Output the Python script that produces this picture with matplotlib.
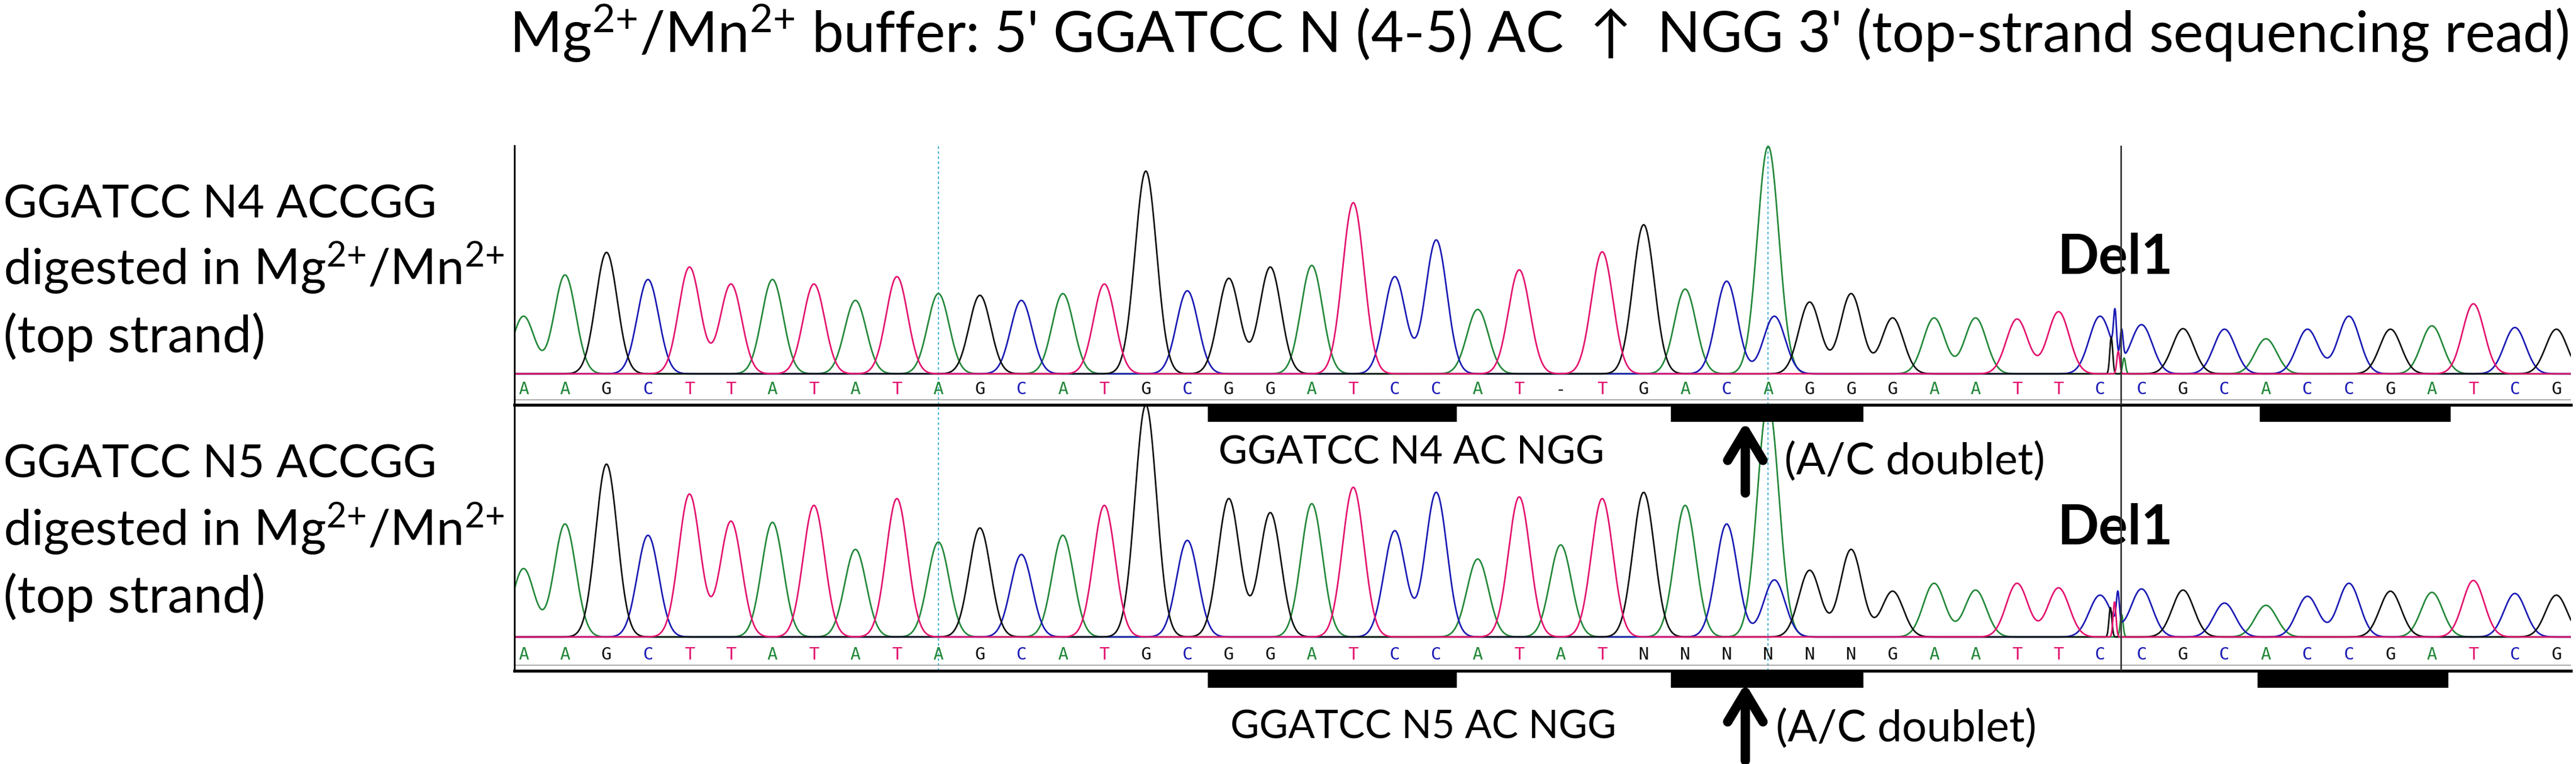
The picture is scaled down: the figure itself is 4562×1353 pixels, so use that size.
import numpy as np
import matplotlib
matplotlib.use("Agg")
import matplotlib.pyplot as plt

plt.rcParams['mathtext.default'] = 'regular'
plt.rcParams['font.family'] = ['Lato', 'DejaVu Sans']

# ---------------- data ----------------
title = r"Mg$^{2{+}}$/Mn$^{2{+}}$ buffer: 5' GGATCC N (4-5) AC $\uparrow$ NGG 3' (top-strand sequencing read)"
labels_top = ["GGATCC N4 ACCGG", r"digested in Mg$^{2{+}}$/Mn$^{2{+}}$", "(top strand)"]
labels_bot = ["GGATCC N5 ACCGG", r"digested in Mg$^{2{+}}$/Mn$^{2{+}}$", "(top strand)"]

# base calls printed under each trace
top_calls = "AAGCTTATATAGCATGCGGATCCAT-TGACAGGGAATTCCGCACCGATCG"
bot_calls = "AAGCTTATATAGCATGCGGATCCATATNNNNNNGAATTCCGCACCGATCG"
# dye of the main peak at each position ('-' = no peak)
top_peaks = "AAGCTTATATAGCATGCGGATCCAT-TGACAGGGAATTCCGCACCGATCG"
bot_peaks = "AAGCTTATATAGCATGCGGATCCATATGACAGGGAATTCCGCACCGATCG"

top_heights = [102, 175, 215, 167, 189, 159, 167, 159, 130, 172,
               142, 139, 130, 142, 159, 359, 147, 169, 189, 192,
               303, 172, 237, 114, 184, 0, 216, 264, 150, 164,
               403, 127, 142, 99, 99, 99, 97, 110, 102, 87,
               80, 79, 62, 79, 102, 79, 85, 124, 82, 79]
bot_heights = [121, 200, 306, 180, 253, 205, 203, 233, 155, 245,
               168, 193, 146, 180, 233, 411, 171, 245, 220, 236,
               265, 188, 256, 138, 248, 163, 245, 256, 233, 200,
               416, 118, 155, 81, 95, 83, 95, 87, 74, 85,
               83, 60, 56, 72, 95, 81, 79, 100, 77, 74]

# secondary (doublet) peaks: position, dye, height
top_extra = [(30.15, 'C', 102)]
bot_extra = [(30.15, 'C', 101)]
# dye blob spikes at the Del1 junction: position, dye, height
top_blob = [(38.27, 'G', 65), (38.36, 'C', 72), (38.44, 'T', 40), (38.52, 'C', 50), (38.58, 'A', 28)]
bot_blob = [(38.25, 'G', 52), (38.35, 'T', 62), (38.43, 'C', 55), (38.52, 'A', 40)]

site_bars_top = [(16.5, 22.5), (27.65, 32.3), (41.85, 46.45)]
site_bars_bot = [(16.5, 22.5), (27.65, 32.3), (41.8, 46.4)]
motif_top = "GGATCC N4 AC NGG"
motif_bot = "GGATCC N5 AC NGG"
doublet_label = "(A/C doublet)"
doublet_pos = 29.45
cursor_pos = [10, 30]
del_pos = 38.5
del_label = "Del1"

dye_color = {'A': '#23883a', 'C': '#1a1ab4', 'G': '#111111', 'T': '#e3136f',
             'N': '#111111', '-': '#111111'}
SIG = 0.26
BLOB_SIG = 0.035

# ---------------- figure ----------------
W, H = 4562, 1353
fig = plt.figure(figsize=(W / 100, H / 100), dpi=100)
fig.patch.set_facecolor('white')


def fx(px):
    return px / W


def fy(py):
    return 1 - py / H


X0, X1 = -0.22, 49.35
left, right = fx(911), fx(4553)
ax_top = fig.add_axes([left, fy(717), right - left, fy(258) - fy(717)])
ax_bot = fig.add_axes([left, fy(1188), right - left, fy(717) - fy(1188)])
ax_top.set_zorder(3)
ax_bot.set_zorder(2)

x = np.linspace(X0, X1, 6000)


def build(peaks, heights, extra, blob):
    y = {b: np.zeros_like(x) for b in 'ACGT'}
    for i, (b, h) in enumerate(zip(peaks, heights)):
        if b in y:
            y[b] += h * np.exp(-0.5 * ((x - i) / SIG) ** 2)
    for p, b, h in extra:
        y[b] += h * np.exp(-0.5 * ((x - p) / SIG) ** 2)
    for p, b, h in blob:
        y[b] += h * np.exp(-0.5 * ((x - p) / BLOB_SIG) ** 2)
    return y


panels = [
    (ax_top, top_calls, top_peaks, top_heights, top_extra, top_blob, (-55, 404), -28, -46, site_bars_top),
    (ax_bot, bot_calls, bot_peaks, bot_heights, bot_extra, bot_blob, (-60, 411), -32, -50, site_bars_bot),
]

for ax, calls, peaks, heights, extra, blob, ylim, ylett, ygray, bars in panels:
    ax.set_facecolor('none')
    ax.set_xlim(X0, X1)
    ax.set_ylim(*ylim)
    ax.set_xticks([])
    ax.set_yticks([])
    for s in ('top', 'right'):
        ax.spines[s].set_visible(False)
    ax.spines['left'].set_linewidth(2.2)
    ax.spines['bottom'].set_linewidth(3.8)
    ys = build(peaks, heights, extra, blob)
    for b in ['A', 'C', 'G', 'T']:
        ax.plot(x, ys[b], color=dye_color[b], lw=2.0, solid_joinstyle='round')
    for c in cursor_pos:
        ax.axvline(c, color='#46b4d6', lw=1.6, ls=(0, (2, 2)), zorder=1)
    ax.axvline(del_pos, color='#333333', lw=2.0, zorder=4)
    ax.axhline(ygray, color='#9a9a9a', lw=1.2)
    for i, ch in enumerate(calls):
        ax.text(i, ylett, ch, ha='center', va='center', color=dye_color[ch],
                fontsize=22, family='DejaVu Sans Mono')
    ax.broken_barh([(a, b - a) for a, b in bars], (ylim[0] - 30, 30),
                   facecolors='black', clip_on=False)

fig.canvas.draw()
rend = fig.canvas.get_renderer()


def fit(t, target):
    w = t.get_window_extent(rend).width
    t.set_fontsize(t.get_fontsize() * target / w)
    return t.get_fontsize()


# title
tt = fig.text(fx(902), fy(93), title, ha='left', va='baseline', fontsize=60, color='black')
fit(tt, 3651)

# left labels (each line matched to its width in the reference)
line_widths = [767, 888, 464]
for block, bases in ((labels_top, (385, 503, 624)), (labels_bot, (846, 965, 1085))):
    for s, b, wpx in zip(block, bases, line_widths):
        t = fig.text(fx(6), fy(b), s, ha='left', va='baseline', fontsize=60, color='black')
        fit(t, wpx)

# motif texts / doublet / arrows / Del1
m1 = ax_top.text(16.755, -160, motif_top, ha='left', va='baseline', fontsize=50)
msz = fit(m1, 684)
m2 = ax_bot.text(17.04, -179, motif_bot, ha='left', va='baseline', fontsize=msz)
d1 = ax_top.text(30.39, -156, doublet_label, ha='left', va='center', fontsize=50)
dsz = fit(d1, 461)
d2 = ax_bot.text(30.18, -163, doublet_label, ha='left', va='center', fontsize=dsz)

for ax, y0, y1 in ((ax_top, -85, -211), (ax_bot, -82, -219)):
    ax.annotate('', xy=(doublet_pos, y0), xytext=(doublet_pos, y1),
                arrowprops=dict(arrowstyle='->,head_length=0.75,head_width=0.45',
                                lw=12, color='black', mutation_scale=50,
                                shrinkA=0, shrinkB=0),
                annotation_clip=False)

e1 = ax_top.text(38.36, 206, del_label, ha='center', va='center', fontsize=60, fontweight='bold')
esz = fit(e1, 205)
ax_bot.text(38.36, 193, del_label, ha='center', va='center', fontsize=esz, fontweight='bold')

fig.savefig('out.png', dpi=100, facecolor='white')
